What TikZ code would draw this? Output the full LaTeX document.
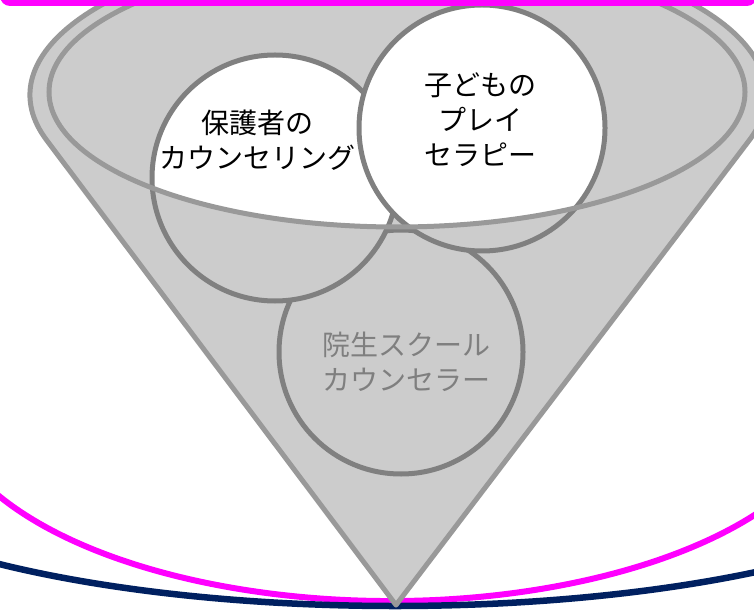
\documentclass[tikz,border=0pt]{standalone}
\usepackage{fontspec}
\newfontfamily\jp{Noto Sans CJK JP}
\definecolor{funfill}{HTML}{CCCCCC}
\definecolor{funline}{HTML}{999999}
\definecolor{circline}{HTML}{808080}
\definecolor{txtgray}{HTML}{7F7F7F}
\definecolor{magentaC}{HTML}{FF00FF}
\definecolor{navyC}{HTML}{002060}
\begin{document}
\begin{tikzpicture}[x=1pt,y=1pt,
  funnelline/.style={draw=funline, line width=5pt},
  ring/.style={draw=circline, line width=5pt},
  lbl/.style={font=\jp\fontsize{28}{35}\selectfont, align=center, inner sep=0pt, text=black}]
\useasboundingbox (0,0) rectangle (754,611);
\clip (0,0) rectangle (754,611);
% bottom arcs
\coordinate (mg) at (390,218);
\coordinate (nv) at (395,174);
\draw[magentaC, line width=6pt] (mg) ++(205:450 and 208) arc[start angle=205, end angle=335, x radius=450, y radius=208];
\draw[navyC, line width=6.5pt] (nv) ++(220:600 and 169) arc[start angle=220, end angle=320, x radius=600, y radius=169];
% funnel body
\coordinate (fc) at (398,516);
\coordinate (tip) at (396,6);
\coordinate (rimc) at (397,519);
\fill[funfill] (fc) ++(197.3:368 and 152) arc[start angle=197.3, end angle=-17.3, x radius=368, y radius=152] -- (tip) -- cycle;
% circles
\coordinate (c1) at (275,433);
\coordinate (c2) at (482,483);
\coordinate (c3) at (401,259);
% circle 3 (behind)
\fill[funfill] (c3) circle[radius=122];
\draw[ring] (c3) circle[radius=122];
% circle 1
\fill[funfill] (c1) circle[radius=123];
\begin{scope}
  \clip (rimc) ellipse[x radius=348, y radius=135];
  \fill[white] (c1) circle[radius=123];
\end{scope}
\draw[ring] (c1) circle[radius=123];
% circle 2
\fill[funfill] (c2) circle[radius=123];
\begin{scope}
  \clip (rimc) ellipse[x radius=348, y radius=135];
  \fill[white] (c2) circle[radius=123];
\end{scope}
\draw[ring] (c2) circle[radius=123];
% labels
\node[lbl] (t1) at (257,471) {保護者の\\カウンセリング};
\node[lbl] (t2) at (480,491) {子どもの\\プレイ\\セラピー};
\node[lbl, text=txtgray] (t3) at (406,249) {院生スクール\\カウンセラー};
% rim and outer outline
\draw[funnelline] (rimc) ellipse[x radius=348, y radius=135];
\draw[funnelline, line join=round] (fc) ++(197.3:368 and 152) arc[start angle=197.3, end angle=-17.3, x radius=368, y radius=152] -- (tip) -- cycle;
% top magenta band (on top of everything)
\fill[magentaC, rounded corners=10pt] (0,605) rectangle (757,680);
\end{tikzpicture}
\end{document}
